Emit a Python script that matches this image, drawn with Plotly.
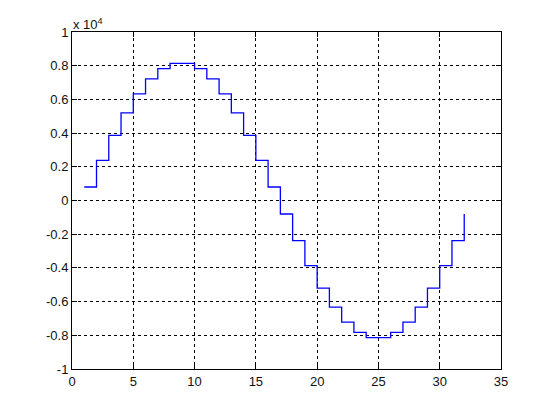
import plotly.graph_objects as go

# sample index and values (raw units, axis shown in x10^4)
n = list(range(1, 33))
values = [800, 2380, 3860, 5200, 6330, 7220, 7830, 8140,
          8140, 7830, 7220, 6330, 5200, 3860, 2380, 800,
          -800, -2380, -3860, -5200, -6330, -7220, -7830, -8140,
          -8140, -7830, -7220, -6330, -5200, -3860, -2380, -800]

x_ticks = [0, 5, 10, 15, 20, 25, 30, 35]
y_tickvals = [-10000, -8000, -6000, -4000, -2000, 0, 2000, 4000, 6000, 8000, 10000]
y_ticktext = ["-1", "-0.8", "-0.6", "-0.4", "-0.2", "0", "0.2", "0.4", "0.6", "0.8", "1"]

FONT = "Liberation Sans, Arial, sans-serif"

fig = go.Figure()
fig.add_trace(go.Scatter(x=n, y=values, mode="lines", line_shape="hv",
                         line=dict(color="#0000ff", width=1.3), showlegend=False,
                         hoverinfo="skip"))

axis_common = dict(showline=True, linecolor="black", linewidth=1, mirror="allticks",
                   ticks="inside", ticklen=5, tickcolor="black",
                   showgrid=True, gridcolor="black", gridwidth=1, griddash="3px,3px",
                   zeroline=False, automargin=False,
                   tickfont=dict(family=FONT, size=13, color="#111"))

fig.update_xaxes(range=[0, 35], tickvals=x_ticks, **axis_common)
fig.update_yaxes(range=[-10000, 10000], tickvals=y_tickvals, ticktext=y_ticktext, **axis_common)

fig.add_annotation(xref="paper", yref="paper", x=0, y=1, xanchor="left", yanchor="bottom",
                   xshift=-1, yshift=-2, showarrow=False,
                   text="x 10<sup>4</sup>",
                   font=dict(family=FONT, size=13, color="#111"))

fig.update_layout(width=554, height=415, paper_bgcolor="white", plot_bgcolor="white",
                  margin=dict(l=64, r=61, t=24, b=54))

fig.write_html("out.html")
